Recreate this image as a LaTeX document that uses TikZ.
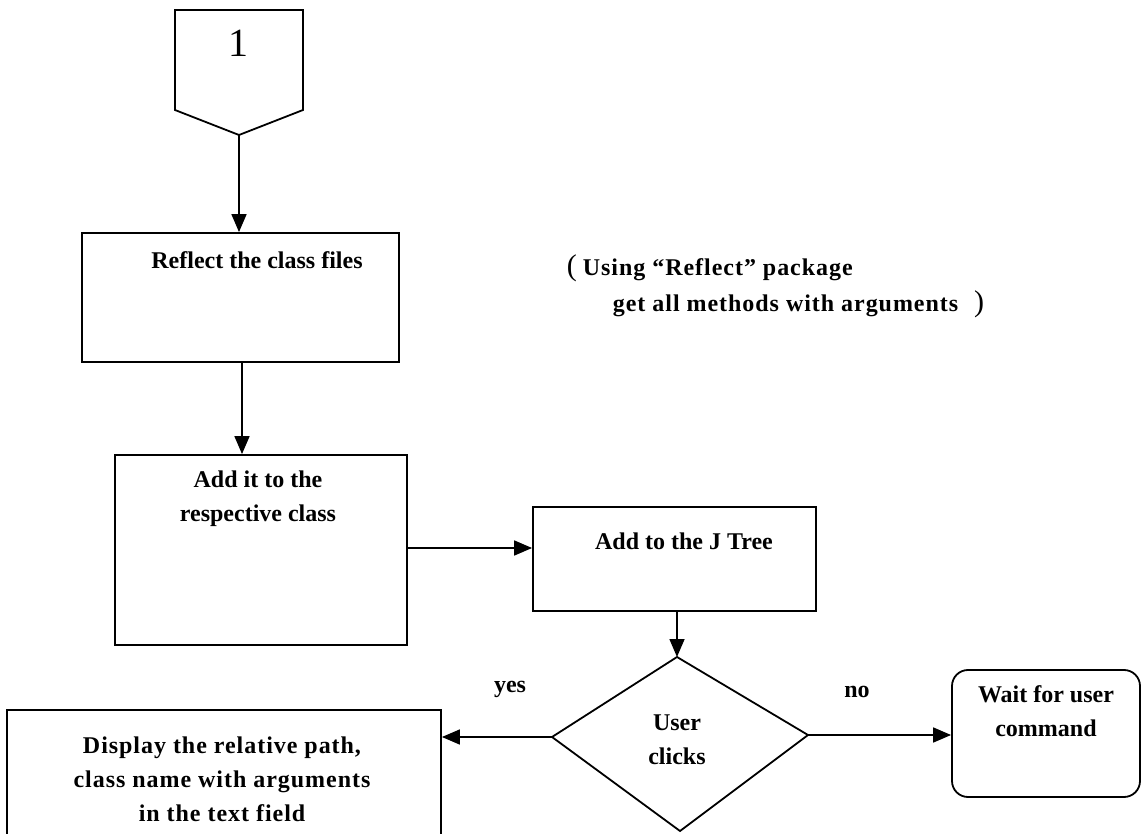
\documentclass[tikz,border=0pt]{standalone}
\usepackage{fontspec}
\setmainfont{Liberation Serif}
\usetikzlibrary{arrows.meta}
\begin{document}
\begin{tikzpicture}[x=1pt,y=-1pt,
  line width=1.8pt,
  lbl/.style={font=\bfseries\fontsize{24}{34}\selectfont, align=center, inner sep=0pt},
  wide/.style={font=\bfseries\fontsize{24}{34}\selectfont\addfontfeature{LetterSpace=4}},
  box/.style={draw, line width=1.8pt, inner sep=0pt},
  flow/.style={-{Triangle[length=18pt,width=15pt]}, line width=1.6pt},
]
\useasboundingbox (0,0) rectangle (1144,834);

% off-page connector
\coordinate (pentNW) at (175,10);
\coordinate (pentNE) at (303,10);
\coordinate (pentE) at (303,110);
\coordinate (onetip) at (239,135);
\coordinate (pentW) at (175,110);
\draw (pentNW) -- (pentNE) -- (pentE) -- (onetip) -- (pentW) -- cycle;
\node[font=\fontsize{40}{40}\selectfont, inner sep=0pt] (one) at (238,43) {1};

% process boxes
\node[box, minimum width=317pt, minimum height=129pt] (reflect) at (240.5,297.5) {};
\node[lbl] (reflecttxt) at (257,260) {Reflect the class files};

\node[box, minimum width=292pt, minimum height=190pt] (addclass) at (261,550) {};
\node[lbl] (addclasstxt) at (258,499) {Add it to the\\respective class};

\node[box, minimum width=283pt, minimum height=104pt] (jtree) at (674.5,559) {};
\node[lbl] (jtreetxt) at (684,541) {Add to the J Tree};

\node[box, minimum width=434pt, minimum height=140pt] (display) at (224,780) {};
\node[lbl, wide] (displaytxt) at (222,779) {Display the relative path,\\class name with arguments\\in the text field};

\node[box, rounded corners=16pt, minimum width=188pt, minimum height=127pt] (wait) at (1046,733.5) {};
\node[lbl] (waittxt) at (1046,711) {Wait for user\\command};

% decision
\coordinate (dtop) at (677,657);
\coordinate (dright) at (808,735);
\coordinate (dbottom) at (680,831);
\coordinate (dleft) at (552,737);
\draw (dtop) -- (dright) -- (dbottom) -- (dleft) -- cycle;
\node[lbl] (decision) at (677,740) {User\\clicks};

% side note
\node[lbl, wide, anchor=west] (note1) at (566,268) {{\mdseries\fontsize{30}{30}\selectfont(}\hspace{6pt}Using “Reflect” package};
\node[lbl, wide, anchor=west] (note2) at (612,304) {get all methods with arguments\hspace{16pt}{\mdseries\fontsize{30}{30}\selectfont)}};

% connectors
\draw[flow] (onetip) -- (onetip |- reflect.north);
\draw[flow] ([xshift=1.5pt]reflect.south) -- ([xshift=1.5pt]reflect.south |- addclass.north);
\draw[flow] ([yshift=2pt]addclass.east) -- ([yshift=2pt]addclass.east -| jtree.west);
\draw[flow] ([xshift=2.5pt]jtree.south) -- (dtop);
\draw[flow] (dleft) -- (dleft -| display.east);
\draw[flow] (dright) -- (dright -| wait.west);

% branch labels
\node[lbl] (yes) at (510,689) {yes};
\node[lbl] (no) at (857,692) {no};
\end{tikzpicture}
\end{document}
